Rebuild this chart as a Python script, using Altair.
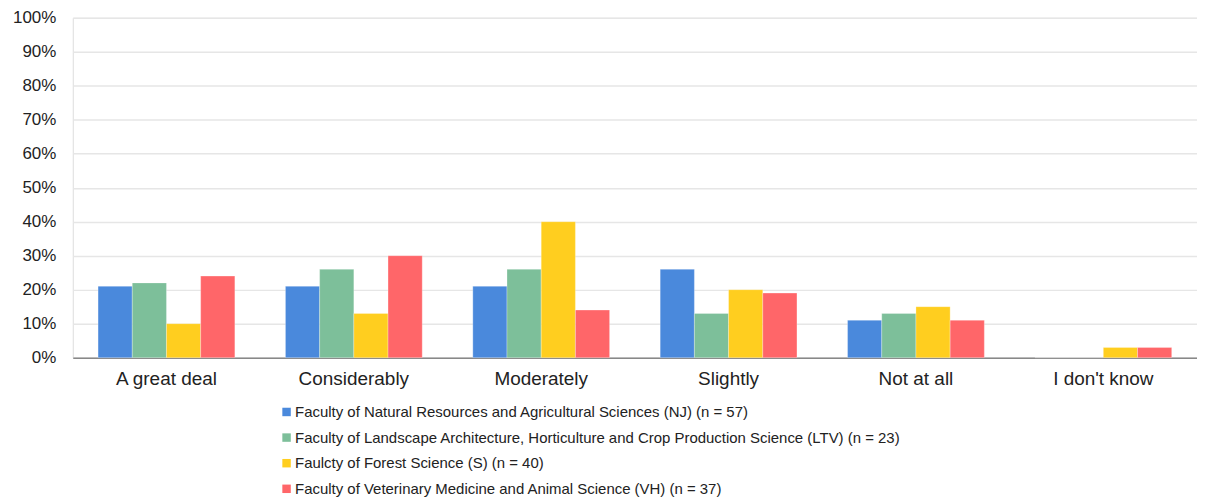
import altair as alt
import pandas as pd

categories = ["A great deal", "Considerably", "Moderately", "Slightly", "Not at all", "I don't know"]
series = [
    "Faculty of Natural Resources and Agricultural Sciences (NJ) (n = 57)",
    "Faculty of Landscape Architecture, Horticulture and Crop Production Science (LTV) (n = 23)",
    "Faulcty of Forest Science (S) (n = 40)",
    "Faculty of Veterinary Medicine and Animal Science (VH) (n = 37)",
]
nj = [21, 21, 21, 26, 11, 0]
ltv = [22, 26, 26, 13, 13, 0]
s = [10, 13, 40, 20, 15, 3]
vh = [24, 30, 14, 19, 11, 3]
colors = ["#4A89DC", "#7DBF9A", "#FFCE1F", "#FF6669"]

rows = []
for name, vals in zip(series, [nj, ltv, s, vh]):
    for c, v in zip(categories, vals):
        rows.append({"category": c, "series": name, "value": v / 100})
df = pd.DataFrame(rows)

font = "Liberation Sans"

chart = alt.Chart(df).mark_bar(stroke="white", strokeOpacity=0.35, strokeWidth=0.8).encode(
    x=alt.X("category:N", sort=categories, title=None,
            scale=alt.Scale(paddingInner=0.27, paddingOuter=0.135),
            axis=alt.Axis(labelAngle=0, labelFontSize=19, labelColor="#222222", labelFont=font,
                          ticks=False, domainColor="#888888", domainWidth=1.5, labelPadding=12, grid=False)),
    xOffset=alt.XOffset("series:N", sort=series, scale=alt.Scale(paddingInner=0, paddingOuter=0)),
    y=alt.Y("value:Q", title=None,
            scale=alt.Scale(domain=[0, 1], nice=False),
            axis=alt.Axis(format=".0%", values=[i / 10 for i in range(11)], labelFontSize=17,
                          labelColor="#222222", labelFont=font, ticks=False, domain=False,
                          gridColor="#E6E6E6", gridWidth=1.5, labelPadding=17)),
    color=alt.Color("series:N", sort=series,
                    scale=alt.Scale(domain=series, range=colors),
                    legend=alt.Legend(title=None, orient="none", legendX=207, legendY=388,
                                      symbolType="square", symbolSize=72, symbolStrokeWidth=0,
                                      labelFontSize=15, labelFont=font, labelColor="#222222",
                                      rowPadding=9.7, labelOffset=1, labelLimit=800, direction="vertical")),
).properties(width=1128, height=341,
             padding={"left": 4, "top": 0, "right": 0, "bottom": 0}).configure_view(stroke=None).configure(
    background="white")

chart.save("out.html", embed_options={"renderer": "svg", "actions": False})
